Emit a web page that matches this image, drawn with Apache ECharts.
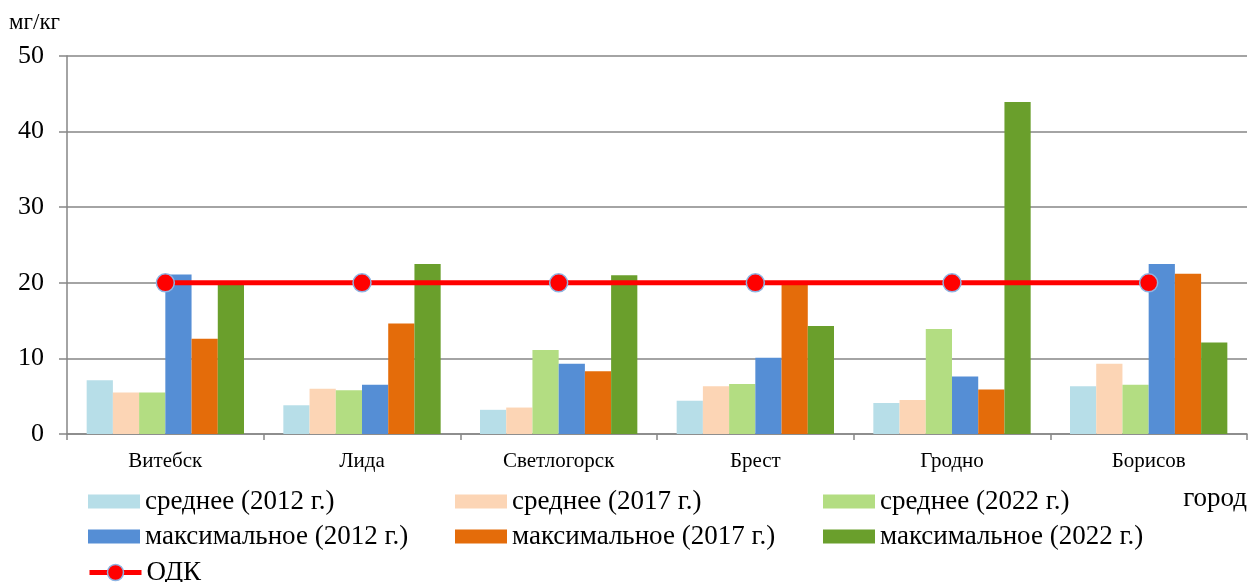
<!DOCTYPE html>
<html>
<head>
<meta charset="utf-8">
<script src="https://cdn.jsdelivr.net/npm/echarts@6/dist/echarts.min.js"></script>
<style>
  html, body { margin: 0; padding: 0; background: #fff; }
  #chart { width: 1251px; height: 582px; }
</style>
</head>
<body>
<div id="chart"></div>
<script>
// Cities along the category axis
const cities = ['Витебск', 'Лида', 'Светлогорск', 'Брест', 'Гродно', 'Борисов'];

// Mean concentrations, mg/kg
const mean2012 = [7.1, 3.8, 3.2, 4.4, 4.1, 6.3];
const mean2017 = [5.5, 6.0, 3.5, 6.3, 4.5, 9.3];
const mean2022 = [5.5, 5.8, 11.1, 6.6, 13.9, 6.5];

// Maximum concentrations, mg/kg
const max2012 = [21.1, 6.5, 9.3, 10.1, 7.6, 22.5];
const max2017 = [12.6, 14.6, 8.3, 19.7, 5.9, 21.2];
const max2022 = [20.0, 22.5, 21.0, 14.3, 43.9, 12.1];

// Permissible concentration limit (ОДК)
const odk = [20, 20, 20, 20, 20, 20];

const yTicks = { min: 0, max: 50, interval: 10 };

const serif = '"Liberation Serif", "Times New Roman", serif';
const gridGray = '#868686';
const odkRed = '#ff0000';
const odkRing = '#8eb4e3';

const barNames = [
  'среднее (2012 г.)', 'среднее (2017 г.)', 'среднее (2022 г.)',
  'максимальное (2012 г.)', 'максимальное (2017 г.)', 'максимальное (2022 г.)'
];
const barData = [mean2012, mean2017, mean2022, max2012, max2017, max2022];
const barColors = ['#b7dee8', '#fcd5b5', '#b3dd82', '#558ed5', '#e46c0a', '#6a9f2c'];

const barSeries = barNames.map((name, i) => ({
  name: name,
  type: 'bar',
  data: barData[i],
  barGap: '0%',
  barCategoryGap: '20%',
  itemStyle: { color: barColors[i] },
  z: 2
}));

// Square-cornered swatches for the bar entries
const barEntry = (name) => ({ name: name, icon: 'rect' });

const legendText = { fontFamily: serif, fontSize: 27, color: '#000', lineHeight: 24 };
const legendCommon = {
  orient: 'vertical',
  top: 488,
  height: 120,
  itemWidth: 52,
  itemHeight: 14,
  itemGap: 8,
  textStyle: legendText,
  selectedMode: false,
  padding: 0
};

const chart = echarts.init(document.getElementById('chart'), null, { renderer: 'canvas' });
chart.setOption({
  animation: false,
  backgroundColor: '#fff',
  grid: { left: 67, right: 4, top: 56, bottom: 148, containLabel: false },
  legend: [
    Object.assign({}, legendCommon, { left: 88, data: [barEntry(barNames[0]), barEntry(barNames[3])] }),
    Object.assign({}, legendCommon, { left: 455, data: [barEntry(barNames[1]), barEntry(barNames[4])] }),
    Object.assign({}, legendCommon, { left: 823, data: [barEntry(barNames[2]), barEntry(barNames[5])] }),
    Object.assign({}, legendCommon, {
      left: 87,
      top: 559,
      height: 40,
      itemHeight: 20,
      data: [{
        name: 'ОДК',
        lineStyle: { color: odkRed, width: 5 },
        itemStyle: { color: odkRed, borderColor: odkRing, borderWidth: 1.5 }
      }]
    })
  ],
  graphic: [
    { type: 'text', left: 9, top: 11, style: { text: 'мг/кг', font: '23px ' + serif, fill: '#000' } },
    { type: 'text', right: 4, top: 485, style: { text: 'город', font: '27px ' + serif, fill: '#000' } }
  ],
  xAxis: {
    type: 'category',
    data: cities,
    axisLine: { lineStyle: { color: gridGray, width: 1.5 } },
    axisTick: { show: true, length: 6, interval: 0, lineStyle: { color: gridGray, width: 1.5 } },
    axisLabel: { fontFamily: serif, fontSize: 21, color: '#000', margin: 17, interval: 0 }
  },
  yAxis: {
    type: 'value',
    min: yTicks.min,
    max: yTicks.max,
    interval: yTicks.interval,
    axisLine: { show: true, lineStyle: { color: gridGray, width: 1.5 } },
    axisTick: { show: true, length: 8, lineStyle: { color: gridGray, width: 1.5 } },
    axisLabel: { fontFamily: serif, fontSize: 26, color: '#000', margin: 23 },
    splitLine: { show: true, lineStyle: { color: gridGray, width: 1.5 } }
  },
  series: barSeries.concat([{
    name: 'ОДК',
    type: 'line',
    data: odk,
    symbol: 'circle',
    symbolSize: 18,
    lineStyle: { color: odkRed, width: 5 },
    itemStyle: { color: odkRed, borderColor: odkRing, borderWidth: 1.5 },
    z: 5
  }])
});
</script>
</body>
</html>
